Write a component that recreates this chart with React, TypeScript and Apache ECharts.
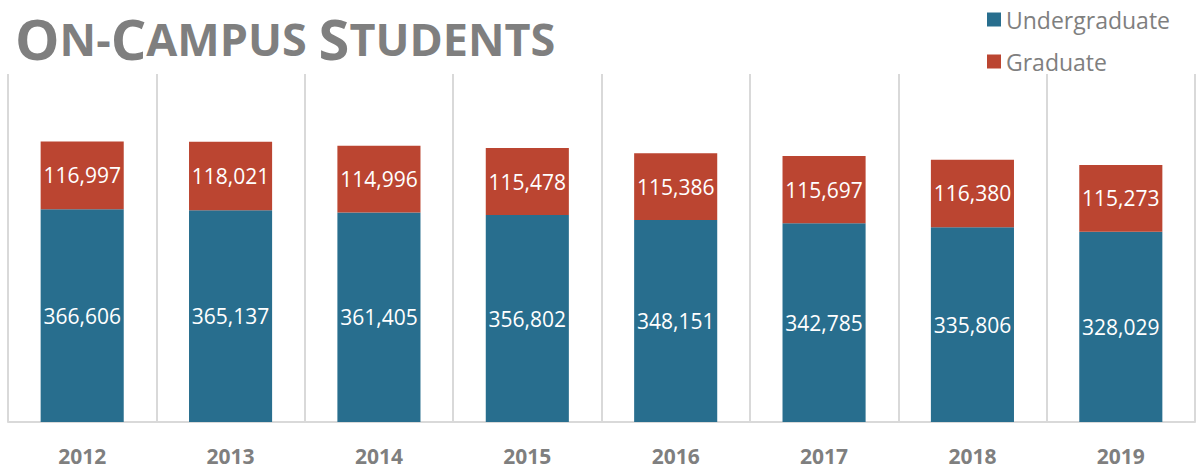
import React, { useEffect, useRef } from "react";
import * as echarts from "echarts";

const years = ["2012", "2013", "2014", "2015", "2016", "2017", "2018", "2019"];
const undergraduate = [366606, 365137, 361405, 356802, 348151, 342785, 335806, 328029];
const graduate = [116997, 118021, 114996, 115478, 115386, 115697, 116380, 115273];

const FONT = "'Open Sans', sans-serif";

export default function App() {
  const ref = useRef<HTMLDivElement>(null);
  useEffect(() => {
    if (!ref.current) return;
    const chart = echarts.init(ref.current, null, { renderer: "svg" });
    const fmt = (p: any) => Number(p.value).toLocaleString("en-US");
    chart.setOption({
      animation: false,
      backgroundColor: "#ffffff",
      title: {
        text: "{b|O}{s|N-}{b|C}{s|AMPUS }{b|S}{s|TUDENTS}",
        left: 10,
        top: 5,
        textStyle: {
          rich: {
            b: { fontFamily: FONT, fontWeight: "bold", fontSize: 56, color: "#7f7f7f" },
            s: { fontFamily: FONT, fontWeight: "bold", fontSize: 45, color: "#7f7f7f" },
          },
        },
      },
      legend: {
        orient: "vertical",
        right: 26,
        top: 3,
        icon: "rect",
        itemWidth: 14,
        itemHeight: 14,
        itemGap: 19,
        textStyle: { fontFamily: FONT, fontSize: 23, color: "#7f7f7f" },
        data: ["Undergraduate", "Graduate"],
      },
      grid: { left: 8, right: 6, top: 74, bottom: 47 },
      xAxis: {
        type: "category",
        data: years,
        axisLine: { show: true, lineStyle: { color: "#d9d9d9", width: 2 } },
        axisTick: { show: false },
        splitLine: { show: true, lineStyle: { color: "#d9d9d9", width: 2 } },
        axisLabel: {
          margin: 23,
          fontFamily: FONT,
          fontWeight: "bold",
          fontSize: 21,
          lineHeight: 22,
          color: "#7f7f7f",
        },
      },
      yAxis: {
        type: "value",
        min: 0,
        max: 600000,
        show: false,
        splitLine: { show: false },
      },
      series: [
        {
          name: "Undergraduate",
          type: "bar",
          stack: "total",
          barWidth: "56%",
          data: undergraduate,
          itemStyle: { color: "#286e8e" },
          label: {
            show: true,
            position: "inside",
            formatter: fmt,
            fontFamily: FONT,
            fontSize: 21,
            color: "#ffffff",
          },
        },
        {
          name: "Graduate",
          type: "bar",
          stack: "total",
          barWidth: "56%",
          data: graduate,
          itemStyle: { color: "#bb4531" },
          label: {
            show: true,
            position: "inside",
            formatter: fmt,
            fontFamily: FONT,
            fontSize: 21,
            color: "#ffffff",
          },
        },
      ],
    });
    return () => chart.dispose();
  }, []);
  return <div ref={ref} style={{ width: 1201, height: 469, position: "absolute", left: 0, top: 0 }} />;
}
